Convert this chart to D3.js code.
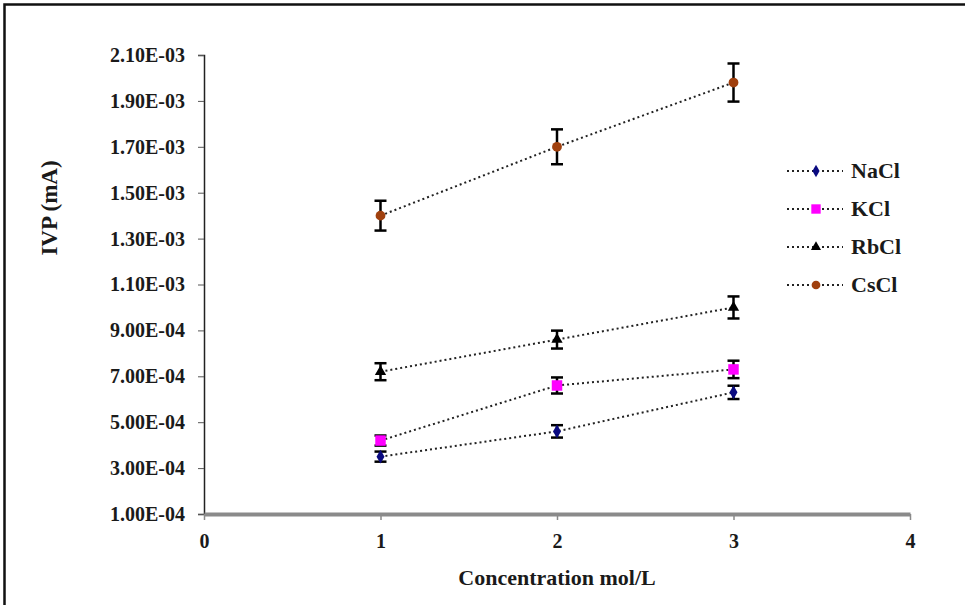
<!DOCTYPE html>
<html>
<head>
<meta charset="utf-8">
<title>IVP vs concentration</title>
<script src="https://d3js.org/d3.v7.min.js"></script>
<style>
  html, body { margin: 0; padding: 0; background: #fff; }
  text { font-family: "Liberation Serif", "Times New Roman", serif; font-weight: bold; fill: #1a1a1a; }
  .tick text { font-size: 20px; }
  .dotted { fill: none; stroke: #222; stroke-width: 2px; stroke-dasharray: 2,3; }
  .err { stroke: #000; stroke-width: 2.5px; }
</style>
</head>
<body>
<script>
// data
var concentrations = [1, 2, 3];
var seriesNames = ["NaCl", "KCl", "RbCl", "CsCl"];
var nacl = [3.5e-4, 4.6e-4, 6.3e-4];
var kcl  = [4.2e-4, 6.6e-4, 7.3e-4];
var rbcl = [7.2e-4, 8.6e-4, 1.0e-3];
var cscl = [1.40e-3, 1.70e-3, 1.98e-3];
var naclErr = [2.2e-5, 2.7e-5, 2.9e-5];
var kclErr  = [2.2e-5, 3.5e-5, 3.8e-5];
var rbclErr = [3.7e-5, 3.9e-5, 4.8e-5];
var csclErr = [6.5e-5, 7.6e-5, 8.3e-5];
var yTicks = [1e-4, 3e-4, 5e-4, 7e-4, 9e-4, 1.1e-3, 1.3e-3, 1.5e-3, 1.7e-3, 1.9e-3, 2.1e-3];
var xTicks = [0, 1, 2, 3, 4];

var series = [
  { name: seriesNames[0], values: nacl, err: naclErr, color: "#0a0a80", shape: d3.symbolDiamond, size: 55 },
  { name: seriesNames[1], values: kcl,  err: kclErr,  color: "#ff00ff", shape: d3.symbolSquare,  size: 110 },
  { name: seriesNames[2], values: rbcl, err: rbclErr, color: "#000000", shape: d3.symbolTriangle, size: 55 },
  { name: seriesNames[3], values: cscl, err: csclErr, color: "#a0400e", shape: d3.symbolCircle,   size: 75 }
];

var W = 965, H = 605;
var plot = { left: 204, top: 55, right: 910, bottom: 514 };

var svg = d3.select("body").append("svg").attr("width", W).attr("height", H);

// cropped frame: only left and top edges visible
svg.append("path").attr("d", "M4.5," + H + "V4.5H" + W)
  .attr("fill", "none").attr("stroke", "#111").attr("stroke-width", 2.5);

var x = d3.scaleLinear().domain([0, 4]).range([plot.left, plot.right]);
var y = d3.scaleLinear().domain([1e-4, 2.1e-3]).range([plot.bottom, plot.top]);

var fmt = function(v) {
  return v.toExponential(2).toUpperCase().replace(/E([+-])(\d)$/, "E$10$2");
};

// y axis
var yAxis = svg.append("g").attr("transform", "translate(" + plot.left + ",0)")
  .call(d3.axisLeft(y).tickValues(yTicks).tickFormat(fmt).tickSize(6).tickPadding(13));
yAxis.select(".domain").attr("stroke", "#222").attr("stroke-width", 1.5);
yAxis.selectAll(".tick line").attr("stroke", "#555");

// x axis
var xAxis = svg.append("g").attr("transform", "translate(0," + plot.bottom + ")")
  .call(d3.axisBottom(x).tickValues(xTicks).tickFormat(d3.format("d")).tickSizeInner(6).tickSizeOuter(0).tickPadding(14));
xAxis.select(".domain").attr("stroke", "#8a8a8a").attr("stroke-width", 4);
xAxis.selectAll(".tick line").attr("stroke", "#8a8a8a").attr("stroke-width", 1.5);

// axis titles
svg.append("text").attr("x", (plot.left + plot.right) / 2).attr("y", 585)
  .attr("text-anchor", "middle").style("font-size", "22px").text("Concentration mol/L");
svg.append("text").attr("transform", "translate(57,208) rotate(-90)")
  .attr("text-anchor", "middle").style("font-size", "23px").text("IVP (mA)");

var line = d3.line().x(function(d, i) { return x(concentrations[i]); }).y(function(d) { return y(d); });

series.forEach(function(s) {
  var g = svg.append("g");
  g.append("path").attr("class", "dotted").attr("d", line(s.values));
  s.values.forEach(function(v, i) {
    var cx = x(concentrations[i]);
    var y0 = y(v - s.err[i]), y1 = y(v + s.err[i]);
    g.append("line").attr("class", "err").attr("x1", cx).attr("x2", cx).attr("y1", y0).attr("y2", y1);
    g.append("line").attr("class", "err").attr("x1", cx - 6).attr("x2", cx + 6).attr("y1", y0).attr("y2", y0);
    g.append("line").attr("class", "err").attr("x1", cx - 6).attr("x2", cx + 6).attr("y1", y1).attr("y2", y1);
    g.append("path").attr("d", d3.symbol().type(s.shape).size(s.size)())
      .attr("transform", "translate(" + cx + "," + y(v) + ")").attr("fill", s.color);
  });
});

// legend
var legend = svg.append("g").attr("transform", "translate(787,171)");
series.forEach(function(s, i) {
  var row = legend.append("g").attr("transform", "translate(0," + (i * 38) + ")");
  row.append("line").attr("class", "dotted").attr("x1", 0).attr("x2", 56).attr("y1", 0).attr("y2", 0);
  row.append("path").attr("d", d3.symbol().type(s.shape).size(s.size * 0.8)())
    .attr("transform", "translate(29,0)").attr("fill", s.color);
  row.append("text").attr("x", 64).attr("y", 7).style("font-size", "22px").text(s.name);
});
</script>
</body>
</html>
